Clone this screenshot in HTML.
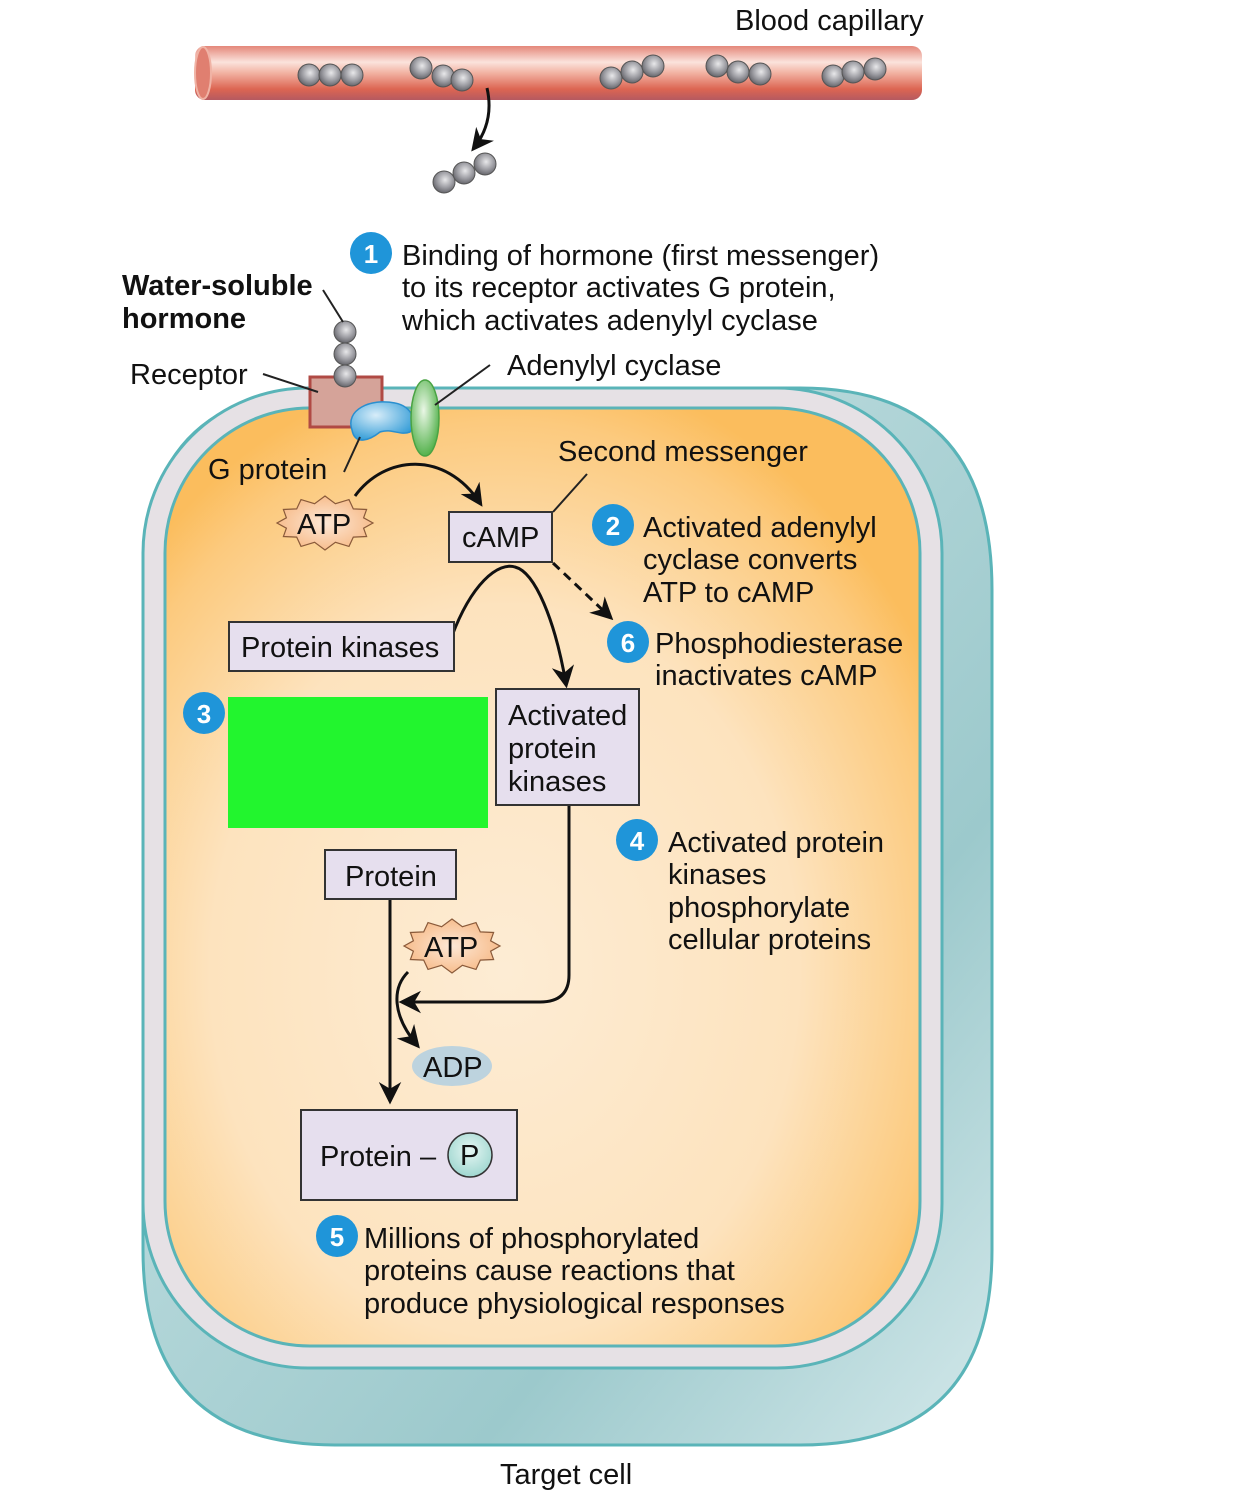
<!DOCTYPE html>
<html><head><meta charset="utf-8"><style>
html,body{margin:0;padding:0;background:#fff;}
svg{display:block;}
text{font-family:"Liberation Sans",sans-serif;font-size:29px;fill:#111;}
</style></head><body>
<svg width="1242" height="1504" viewBox="0 0 1242 1504" xmlns="http://www.w3.org/2000/svg">
<defs>
<linearGradient id="cap" x1="0" y1="0" x2="0" y2="1">
<stop offset="0" stop-color="#e4877a"/><stop offset="0.3" stop-color="#fbe3dc"/><stop offset="0.5" stop-color="#f2b2a2"/><stop offset="0.8" stop-color="#dc6552"/><stop offset="1" stop-color="#b55a60"/>
</linearGradient>
<radialGradient id="ball" cx="0.55" cy="0.4" r="0.6">
<stop offset="0" stop-color="#e8e8ea"/><stop offset="0.6" stop-color="#9c9ca2"/><stop offset="1" stop-color="#66666c"/>
</radialGradient>
<radialGradient id="cyto" cx="0.45" cy="0.6" r="0.65">
<stop offset="0" stop-color="#fdecd4"/><stop offset="0.6" stop-color="#fde3be"/><stop offset="0.9" stop-color="#fcca7e"/><stop offset="1" stop-color="#fbbd5d"/>
</radialGradient>
<linearGradient id="back" x1="0" y1="0" x2="1" y2="1">
<stop offset="0" stop-color="#d4e9eb"/><stop offset="0.7" stop-color="#9cc9cc"/><stop offset="1" stop-color="#d3e8ea"/>
</linearGradient>
<radialGradient id="atp" cx="0.5" cy="0.5" r="0.6">
<stop offset="0" stop-color="#fde8d6"/><stop offset="1" stop-color="#f6b57f"/>
</radialGradient>
<radialGradient id="pc" cx="0.5" cy="0.4" r="0.6">
<stop offset="0" stop-color="#e6f6f3"/><stop offset="1" stop-color="#9fd7d0"/>
</radialGradient>
<radialGradient id="gp" cx="0.4" cy="0.35" r="0.7">
<stop offset="0" stop-color="#d8edf9"/><stop offset="1" stop-color="#2f9ad6"/>
</radialGradient>
<radialGradient id="ac" cx="0.45" cy="0.4" r="0.6">
<stop offset="0" stop-color="#eaf7e6"/><stop offset="1" stop-color="#55b24d"/>
</radialGradient>
<polygon id="star" points="48,0 38.6,5.2 41.6,13.5 28.3,14.1 24,23.4 10.4,19.3 0,27 -10.4,19.3 -24,23.4 -28.3,14.1 -41.6,13.5 -38.6,5.2 -48,0 -38.6,-5.2 -41.6,-13.5 -28.3,-14.1 -24,-23.4 -10.4,-19.3 0,-27 10.4,-19.3 24,-23.4 28.3,-14.1 41.6,-13.5 38.6,-5.2" fill="url(#atp)" stroke="#8a5a3a" stroke-width="1.2"/>
<marker id="ah" viewBox="0 0 10 10" refX="8" refY="5" markerWidth="7.5" markerHeight="7.5" orient="auto" markerUnits="strokeWidth">
<path d="M0,0 L10,5 L0,10 L3,5 z" fill="#111"/></marker>
</defs>

<rect x="195" y="46" width="727" height="54" rx="10" fill="url(#cap)"/>
<ellipse cx="203" cy="73" rx="8" ry="26" fill="#e07f70" stroke="#f0b3a5" stroke-width="2"/>
<g fill="url(#ball)" stroke="#555" stroke-width="1">
<circle cx="309" cy="75" r="11"/><circle cx="330" cy="75" r="11"/><circle cx="352" cy="75" r="11"/>
<circle cx="421" cy="68" r="11"/><circle cx="443" cy="76" r="11"/><circle cx="462" cy="80" r="11"/>
<circle cx="611" cy="78" r="11"/><circle cx="632" cy="72" r="11"/><circle cx="653" cy="66" r="11"/>
<circle cx="717" cy="66" r="11"/><circle cx="738" cy="72" r="11"/><circle cx="760" cy="74" r="11"/>
<circle cx="833" cy="76" r="11"/><circle cx="853" cy="72" r="11"/><circle cx="875" cy="69" r="11"/>
<circle cx="444" cy="182" r="11"/><circle cx="464" cy="173" r="11"/><circle cx="485" cy="164" r="11"/>
</g>
<path d="M487,88 C492,110 488,130 474,148" fill="none" stroke="#111" stroke-width="3" marker-end="url(#ah)"/>
<text x="735" y="30">Blood capillary</text>

<path d="M143,580 Q143,388 335,388 L800,388 Q992,388 992,590 L992,1250 Q992,1445 800,1445 L335,1445 Q143,1445 143,1250 Z" fill="url(#back)" stroke="#5ab4b8" stroke-width="3"/>
<rect x="143" y="388" width="799" height="980" rx="165" fill="#e6e1e5" stroke="#5ab4b8" stroke-width="3"/>
<rect x="165" y="408" width="755" height="938" rx="145" fill="url(#cyto)" stroke="#5ab4b8" stroke-width="3"/>

<rect x="310" y="377" width="72" height="50" fill="#d5a399" stroke="#b04a44" stroke-width="3"/>
<path d="M352,430 C345,410 370,398 395,403 C412,406 418,422 410,432 C400,436 392,428 380,432 C370,440 355,446 352,430 Z" fill="url(#gp)" stroke="#2a8fcf" stroke-width="1.5"/>
<ellipse cx="425" cy="418" rx="14" ry="38" fill="url(#ac)" stroke="#4aa344" stroke-width="1.5"/>
<g fill="url(#ball)" stroke="#555" stroke-width="1">
<circle cx="345" cy="332" r="11"/><circle cx="345" cy="354" r="11"/><circle cx="345" cy="376" r="11"/>
</g>

<g stroke="#222" stroke-width="2" fill="none">
<line x1="323" y1="290" x2="343" y2="322"/>
<line x1="263" y1="374" x2="318" y2="392"/>
<line x1="490" y1="365" x2="435" y2="405"/>
<line x1="344" y1="472" x2="360" y2="437"/>
<line x1="587" y1="474" x2="553" y2="512"/>
</g>

<g stroke="#111" stroke-width="3" fill="none">
<path d="M355,496 C385,455 445,450 480,503" marker-end="url(#ah)"/>
<path d="M447,650 C470,580 500,562 515,567 C535,572 555,620 566,684" marker-end="url(#ah)"/>
<path d="M553,563 L610,617" stroke-dasharray="9,6" marker-end="url(#ah)"/>
<path d="M569,805 L569,975 Q569,1002 540,1002 L403,1002" marker-end="url(#ah)"/>
<path d="M390,900 L390,1100" marker-end="url(#ah)"/>
<path d="M408,972 C392,988 392,1015 417,1045" marker-end="url(#ah)"/>
</g>

<g fill="#e6dfee" stroke="#333" stroke-width="2">
<rect x="449" y="512" width="103" height="50"/>
<rect x="229" y="622" width="225" height="49"/>
<rect x="496" y="689" width="143" height="116"/>
<rect x="325" y="850" width="131" height="49"/>
<rect x="301" y="1110" width="216" height="90"/>
</g>
<rect x="228" y="697" width="260" height="131" fill="#22f52e"/>
<use href="#star" x="325" y="523"/>
<use href="#star" x="452" y="946"/>
<ellipse cx="452" cy="1066" rx="40" ry="20" fill="#bdd3de"/>
<circle cx="470" cy="1155" r="22" fill="url(#pc)" stroke="#333" stroke-width="1.5"/>

<text x="297" y="534">ATP</text>
<text x="462" y="547">cAMP</text>
<text x="241" y="657">Protein kinases</text>
<text x="508" y="725">Activated</text>
<text x="508" y="758">protein</text>
<text x="508" y="791">kinases</text>
<text x="345" y="886">Protein</text>
<text x="424" y="957">ATP</text>
<text x="423" y="1077">ADP</text>
<text x="320" y="1166">Protein –</text>
<text x="460" y="1165">P</text>

<g fill="#1f95d9">
<circle cx="371" cy="253" r="21"/><circle cx="613" cy="525" r="21"/><circle cx="628" cy="642" r="21"/>
<circle cx="204" cy="713" r="21"/><circle cx="637" cy="840" r="21"/><circle cx="337" cy="1236" r="21"/>
</g>
<g text-anchor="middle">
<text x="371" y="263" fill="#fff" style="font-weight:bold;font-size:26px;fill:#fff">1</text>
<text x="613" y="535" fill="#fff" style="font-weight:bold;font-size:26px;fill:#fff">2</text>
<text x="628" y="652" fill="#fff" style="font-weight:bold;font-size:26px;fill:#fff">6</text>
<text x="204" y="723" fill="#fff" style="font-weight:bold;font-size:26px;fill:#fff">3</text>
<text x="637" y="850" fill="#fff" style="font-weight:bold;font-size:26px;fill:#fff">4</text>
<text x="337" y="1246" fill="#fff" style="font-weight:bold;font-size:26px;fill:#fff">5</text>
</g>

<text x="402" y="265">Binding of hormone (first messenger)</text>
<text x="402" y="297">to its receptor activates G protein,</text>
<text x="402" y="330">which activates adenylyl cyclase</text>
<text x="122" y="295" style="font-weight:bold">Water-soluble</text>
<text x="122" y="328" style="font-weight:bold">hormone</text>
<text x="130" y="384">Receptor</text>
<text x="507" y="375">Adenylyl cyclase</text>
<text x="208" y="479">G protein</text>
<text x="558" y="461">Second messenger</text>
<text x="643" y="537">Activated adenylyl</text>
<text x="643" y="569">cyclase converts</text>
<text x="643" y="602">ATP to cAMP</text>
<text x="655" y="653">Phosphodiesterase</text>
<text x="655" y="685">inactivates cAMP</text>
<text x="668" y="852">Activated protein</text>
<text x="668" y="884">kinases</text>
<text x="668" y="917">phosphorylate</text>
<text x="668" y="949">cellular proteins</text>
<text x="364" y="1248">Millions of phosphorylated</text>
<text x="364" y="1280">proteins cause reactions that</text>
<text x="364" y="1313">produce physiological responses</text>
<text x="500" y="1484">Target cell</text>
</svg>
</body></html>
